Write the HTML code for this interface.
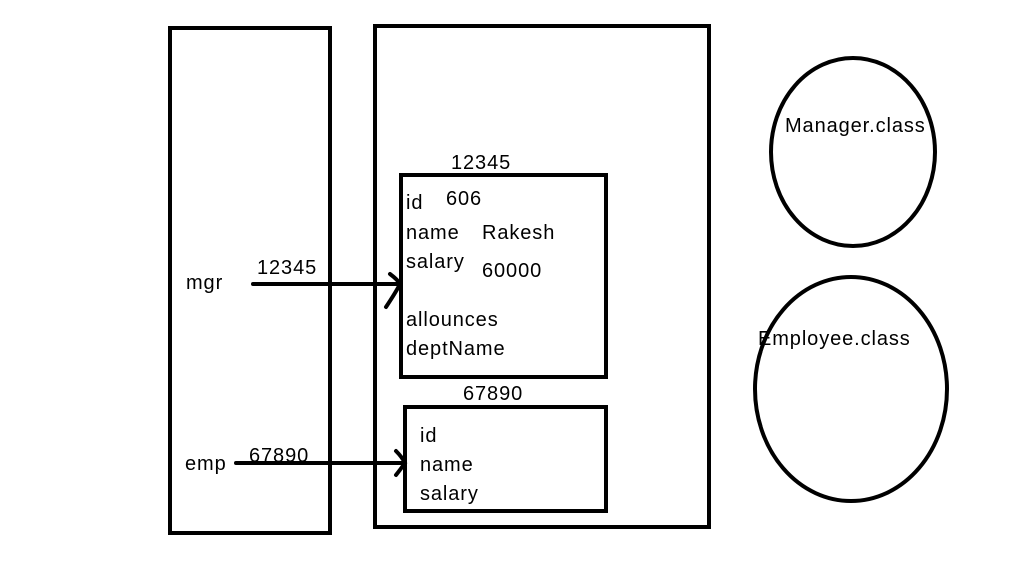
<!DOCTYPE html>
<html><head><style>
html,body{margin:0;padding:0;background:#fff;width:1018px;height:567px;overflow:hidden}
svg text{font-family:"Liberation Sans",sans-serif;font-size:20px;letter-spacing:0.9px;fill:#000}
</style></head><body>
<svg width="1018" height="567" viewBox="0 0 1018 567">
<g fill="none" stroke="#000" stroke-width="4">
<rect x="170" y="28" width="160" height="505"/>
<rect x="375" y="26" width="334" height="501"/>
<rect x="401" y="175" width="205" height="202"/>
<rect x="405" y="407" width="201" height="104"/>
<ellipse cx="853" cy="152" rx="82" ry="94"/>
<ellipse cx="851" cy="389" rx="96" ry="112"/>
<path d="M253 284 H400" stroke-linecap="round"/>
<path d="M390 274 Q398 280 400 284 Q396 292 386 307" stroke-linecap="round"/>
<path d="M236 463 H405" stroke-linecap="round"/>
<path d="M396 451 Q402 457 405 463 Q400 470 396 475" stroke-linecap="round"/>
</g>
<text x="186" y="289">mgr</text>
<text x="257" y="274">12345</text>
<text x="185" y="470">emp</text>
<text x="249" y="462">67890</text>
<text x="451" y="169">12345</text>
<text x="463" y="400">67890</text>
<text x="406" y="209">id</text>
<text x="446" y="205">606</text>
<text x="406" y="239">name</text>
<text x="482" y="239">Rakesh</text>
<text x="406" y="268">salary</text>
<text x="482" y="277">60000</text>
<text x="406" y="326">allounces</text>
<text x="406" y="355">deptName</text>
<text x="420" y="442">id</text>
<text x="420" y="471">name</text>
<text x="420" y="500">salary</text>
<text x="785" y="132">Manager.class</text>
<text x="758" y="345">Employee.class</text>
</svg>
</body></html>
